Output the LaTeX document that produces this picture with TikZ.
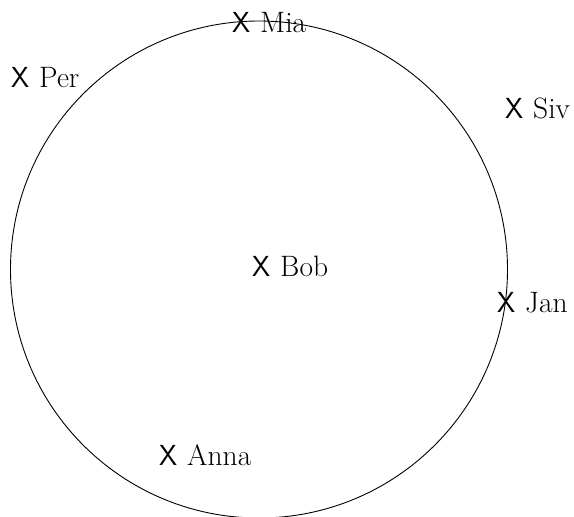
\documentclass[tikz,border=0pt]{standalone}
\usepackage{fontspec}
\begin{document}
\begin{tikzpicture}[x=1pt,y=-1pt,
  xmark/.style={anchor=base west, inner sep=0pt, font=\fontsize{29}{33}\selectfont\sffamily},
  lbl/.style={anchor=base west, inner sep=0pt, font=\fontsize{29.5}{34}\selectfont},
  ring/.style={circle, draw, minimum size=497pt, inner sep=0pt, line width=0.9pt}]
\useasboundingbox (0,0) rectangle (574,517);
\node[ring] (c) at (259,269.5) {};
\node[xmark] (miax) at (232,32) {X};
\node[lbl] (mia) at ([xshift=9.5pt]miax.base east) {Mia};
\node[xmark] (perx) at (11,87) {X};
\node[lbl] (per) at ([xshift=9.5pt]perx.base east) {Per};
\node[xmark] (sivx) at (505,118) {X};
\node[lbl] (siv) at ([xshift=9.5pt]sivx.base east) {Siv};
\node[xmark] (bobx) at (252,276) {X};
\node[lbl] (bob) at ([xshift=9.5pt]bobx.base east) {Bob};
\node[xmark] (janx) at (497,312) {X};
\node[lbl] (jan) at ([xshift=9.5pt]janx.base east) {Jan};
\node[xmark] (annax) at (159,465) {X};
\node[lbl] (anna) at ([xshift=9.5pt]annax.base east) {Anna};
\end{tikzpicture}
\end{document}
